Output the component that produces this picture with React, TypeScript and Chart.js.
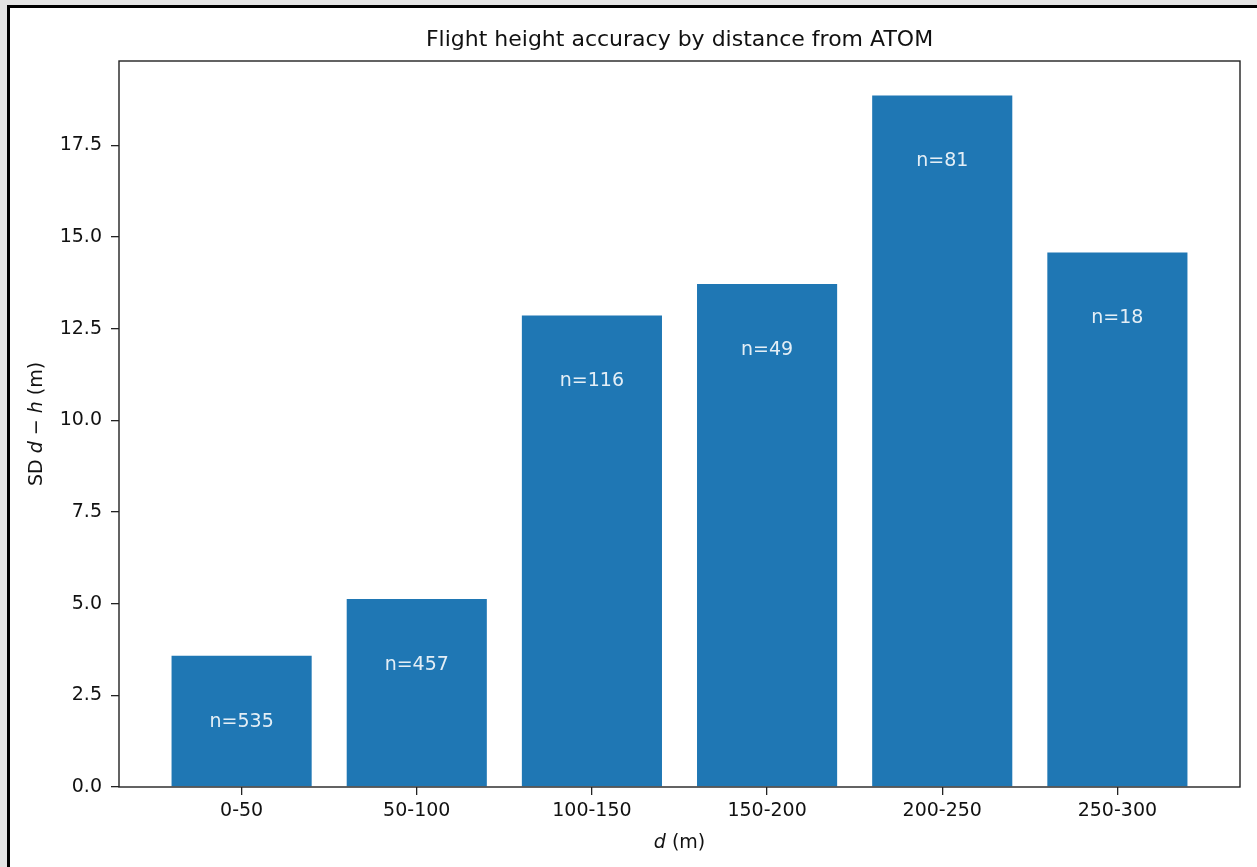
import React, { useEffect, useRef } from "react";
import { Chart, registerables } from "chart.js";

Chart.register(...registerables);

const categories = ["0-50", "50-100", "100-150", "150-200", "200-250", "250-300"];
const sdValues = [3.58, 5.13, 12.86, 13.72, 18.86, 14.58];
const counts = [535, 457, 116, 49, 81, 18];
const yTicks = [0, 2.5, 5, 7.5, 10, 12.5, 15, 17.5];

const FONT = "'DejaVu Sans', sans-serif";
const TICK_PX = 19;
const TITLE_PX = 22;
const LABEL_PX = 19;

type Seg = { t: string; it?: boolean };

function drawMixed(ctx: CanvasRenderingContext2D, segs: Seg[], size: number) {
  const fontOf = (s: Seg) => `${s.it ? "oblique " : ""}${size}px ${FONT}`;
  let total = 0;
  const widths = segs.map((s) => {
    ctx.font = fontOf(s);
    const w = ctx.measureText(s.t).width;
    total += w;
    return w;
  });
  let x = -total / 2;
  segs.forEach((s, i) => {
    ctx.font = fontOf(s);
    ctx.fillText(s.t, x, 0);
    x += widths[i];
  });
}

const decorPlugin = {
  id: "decor",
  afterDatasetsDraw(chart: any) {
    const { ctx, scales } = chart;
    ctx.save();
    ctx.fillStyle = "rgba(255,255,255,0.88)";
    ctx.font = `${LABEL_PX}px ${FONT}`;
    ctx.textAlign = "center";
    ctx.textBaseline = "middle";
    counts.forEach((n, i) => {
      const x = scales.x.getPixelForValue(i);
      const y = scales.y.getPixelForValue(sdValues[i] - 1.8);
      ctx.fillText(`n=${n}`, x, y);
    });
    ctx.restore();
  },
  afterDraw(chart: any) {
    const { ctx, chartArea } = chart;
    ctx.save();
    ctx.strokeStyle = "#222";
    ctx.lineWidth = 1.4;
    ctx.strokeRect(chartArea.left, chartArea.top, chartArea.right - chartArea.left, chartArea.bottom - chartArea.top);
    const cx = (chartArea.left + chartArea.right) / 2;
    ctx.fillStyle = "#111";
    ctx.textAlign = "left";
    ctx.textBaseline = "middle";
    ctx.save();
    ctx.translate(cx, 40);
    drawMixed(ctx, [{ t: "Flight height accuracy by distance from ATOM" }], TITLE_PX);
    ctx.restore();
    ctx.save();
    ctx.translate(cx, 843);
    drawMixed(ctx, [{ t: "d", it: true }, { t: " (m)" }], TICK_PX);
    ctx.restore();
    ctx.save();
    ctx.translate(37, (chartArea.top + chartArea.bottom) / 2);
    ctx.rotate(-Math.PI / 2);
    drawMixed(ctx, [{ t: "SD " }, { t: "d", it: true }, { t: " \u2212 " }, { t: "h", it: true }, { t: " (m)" }], TICK_PX);
    ctx.restore();
    ctx.restore();
  },
};

export default function App() {
  const ref = useRef<HTMLCanvasElement | null>(null);

  useEffect(() => {
    const canvas = ref.current;
    if (!canvas) return;
    const chart = new Chart(canvas, {
      type: "bar",
      data: {
        datasets: [
          {
            data: categories.map((_, i) => ({ x: i, y: sdValues[i] })),
            backgroundColor: "#1f77b4",
            borderWidth: 0,
            barPercentage: 0.8,
            categoryPercentage: 1,
          },
        ],
      },
      options: {
        responsive: false,
        animation: false,
        devicePixelRatio: 1,
        layout: { padding: { left: 0, right: 17, top: 61, bottom: 0 } },
        plugins: {
          legend: { display: false },
          title: { display: false },
          tooltip: { enabled: false },
        },
        scales: {
          x: {
            type: "linear",
            offset: false,
            min: -0.7,
            max: 5.7,
            afterBuildTicks: (s: any) => {
              s.ticks = categories.map((_, i) => ({ value: i }));
            },
            afterFit: (s: any) => {
              s.height = 80;
            },
            grid: { display: true, offset: false, drawOnChartArea: false, drawTicks: true, tickLength: 8, color: "#222", lineWidth: 1.3 },
            border: { display: false },
            ticks: {
              color: "#111",
              font: { family: FONT, size: TICK_PX },
              padding: 5,
              maxRotation: 0,
              autoSkip: false,
              callback: (v: any) => categories[Math.round(Number(v))] ?? "",
            },
          },
          y: {
            min: 0,
            max: 19.8,
            afterBuildTicks: (s: any) => {
              s.ticks = yTicks.map((v) => ({ value: v }));
            },
            afterFit: (s: any) => {
              s.width = 119;
            },
            grid: { display: true, drawOnChartArea: false, drawTicks: true, tickLength: 8, color: "#222", lineWidth: 1.3 },
            border: { display: false },
            ticks: {
              color: "#111",
              font: { family: FONT, size: TICK_PX },
              padding: 9,
              callback: (v: any) => Number(v).toFixed(1),
            },
          },
        },
      },
      plugins: [decorPlugin],
    } as any);
    return () => chart.destroy();
  }, []);

  return (
    <div style={{ position: "fixed", left: 0, top: 0, width: 1257, height: 867, background: "#e4e4e4", overflow: "hidden" }}>
      <div
        style={{
          position: "absolute",
          left: 7,
          top: 5,
          right: 0,
          bottom: 0,
          background: "#ffffff",
          borderLeft: "3px solid #000",
          borderTop: "3px solid #000",
        }}
      />
      <canvas ref={ref} width={1257} height={867} style={{ position: "absolute", left: 0, top: 0, width: 1257, height: 867 }} />
    </div>
  );
}
